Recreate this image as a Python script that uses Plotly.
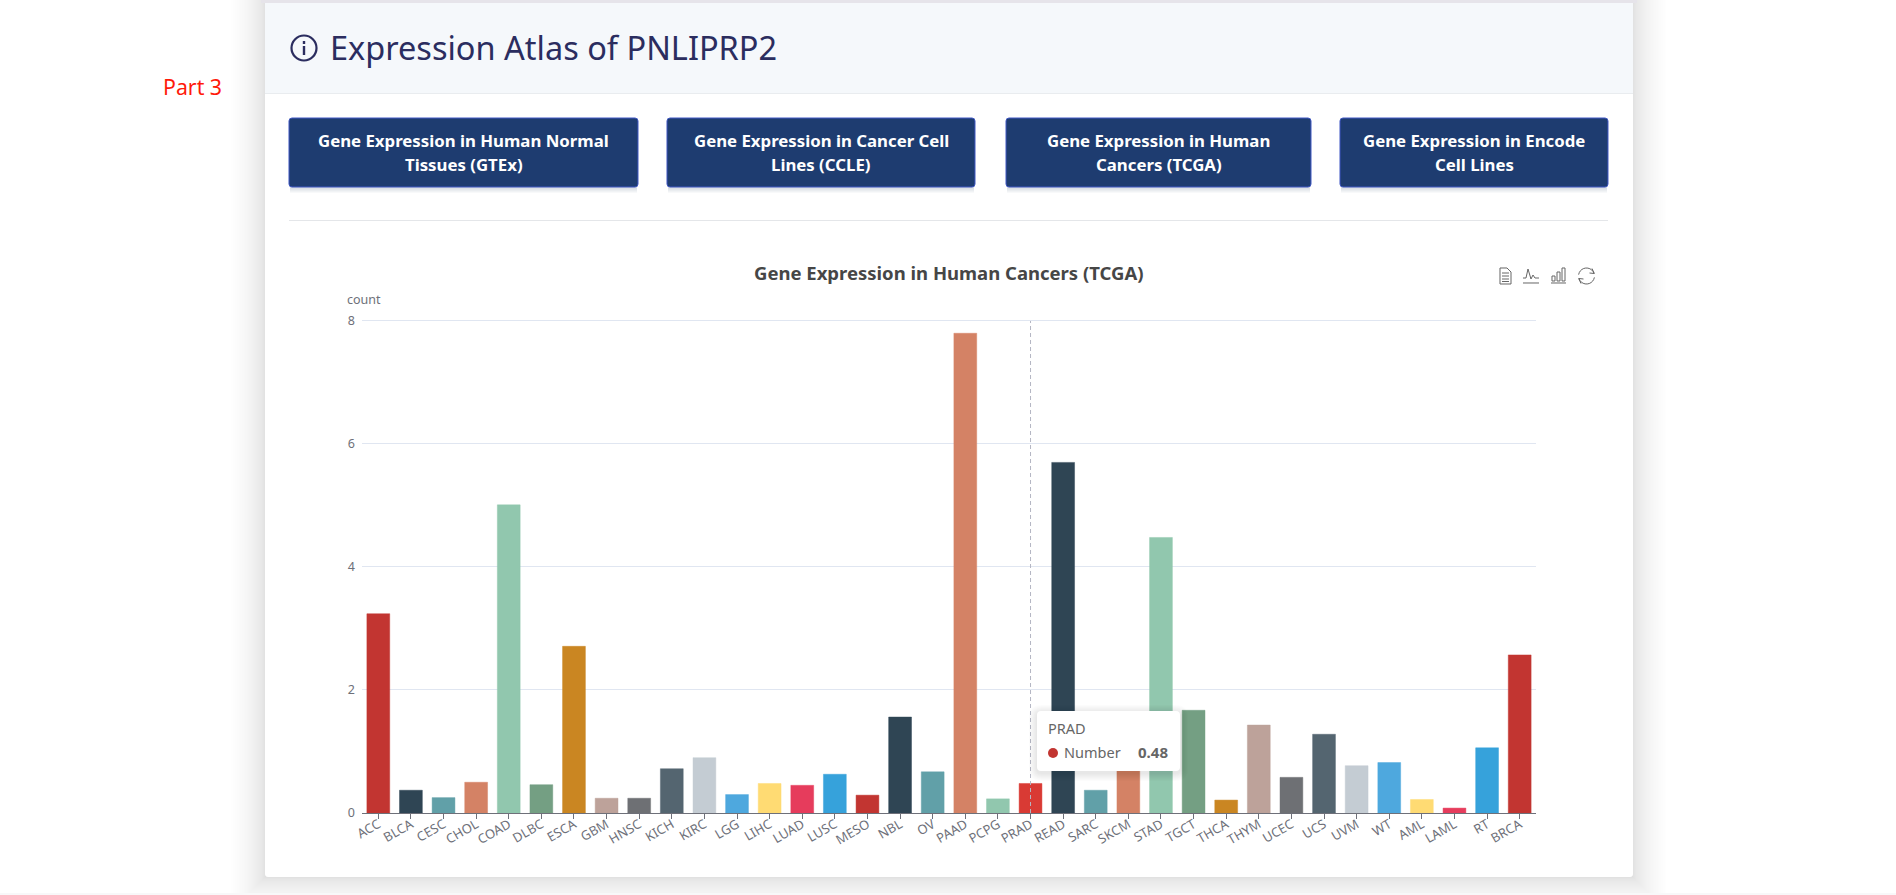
import math
import plotly.graph_objects as go

W, H = 1896, 895

categories = ["ACC","BLCA","CESC","CHOL","COAD","DLBC","ESCA","GBM","HNSC","KICH","KIRC","LGG","LIHC","LUAD","LUSC","MESO","NBL","OV",
              "PAAD","PCPG","PRAD","READ","SARC","SKCM","STAD","TGCT","THCA","THYM","UCEC","UCS","UVM","WT","AML","LAML","RT","BRCA"]
values = [3.24,0.37,0.25,0.50,5.01,0.46,2.71,0.24,0.24,0.72,0.90,0.30,0.48,0.45,0.63,0.29,1.56,0.67,
          7.80,0.23,0.48,5.70,0.37,1.00,4.48,1.67,0.21,1.43,0.58,1.28,0.77,0.82,0.22,0.08,1.06,2.57]
bar_colors = ["#c23531","#2f4554","#61a0a8","#d48265","#91c7ae","#749f83","#ca8622","#bda29a","#6e7074","#546570",
              "#c4ccd3","#4ea8de","#ffdb73","#e63c5c","#36a2db",
              "#c23531","#2f4554","#61a0a8","#d48265","#91c7ae",
              "#d93a34","#2f4554","#61a0a8","#d48265","#91c7ae","#749f83","#ca8622","#bda29a","#6e7074",
              "#546570","#c4ccd3","#4ea8de","#ffdb73","#e63c5c","#36a2db","#c23531"]
y_ticks = [0, 2, 4, 6, 8]
buttons = [
    ("Gene Expression in Human Normal", "Tissues (GTEx)", 289, 638),
    ("Gene Expression in Cancer Cell", "Lines (CCLE)", 667, 975),
    ("Gene Expression in Human", "Cancers (TCGA)", 1006, 1311),
    ("Gene Expression in Encode", "Cell Lines", 1340, 1608),
]
hover_category = "PRAD"
hover_value = 0.48

FONT = "Noto Sans, Open Sans, sans-serif"

def px(x): return x / W
def py(y): return 1 - y / H

def rgba(hexc, a):
    return f"rgba({int(hexc[1:3],16)},{int(hexc[3:5],16)},{int(hexc[5:7],16)},{a})"

def round_path(x0, y0, x1, y1, r):
    P = lambda x, y: f"{px(x):.6f},{py(y):.6f}"
    return (f"M{P(x0+r,y0)} L{P(x1-r,y0)} Q{P(x1,y0)} {P(x1,y0+r)} L{P(x1,y1-r)} Q{P(x1,y1)} {P(x1-r,y1)} "
            f"L{P(x0+r,y1)} Q{P(x0,y1)} {P(x0,y1-r)} L{P(x0,y0+r)} Q{P(x0,y0)} {P(x0+r,y0)} Z")

def poly(points, close=False):
    s = "M" + " L".join(f"{px(x):.6f},{py(y):.6f}" for x, y in points)
    return s + (" Z" if close else "")

shapes, annots = [], []

def rect(x0, y0, x1, y1, fill, layer="below", r=0, line=None, lw=0):
    shapes.append(dict(type="path", xref="paper", yref="paper", path=round_path(x0, y0, x1, y1, r) if r else
                       poly([(x0,y0),(x1,y0),(x1,y1),(x0,y1)], True),
                       fillcolor=fill, line=dict(color=line or "rgba(0,0,0,0)", width=lw), layer=layer))

def stroke(points, color="#666666", lw=1, layer="above", close=False):
    shapes.append(dict(type="path", xref="paper", yref="paper", path=poly(points, close),
                       line=dict(color=color, width=lw), layer=layer))

def text(x, y, s, size, color, anchor="left", bold=False, va="middle"):
    annots.append(dict(x=px(x), y=py(y), xref="paper", yref="paper", text=f"<b>{s}</b>" if bold else s,
                       showarrow=False, xanchor=anchor, yanchor=va, align="center",
                       font=dict(family=FONT, size=size, color=color)))

# card shadow: dense, soft stack
CX0, CY0, CX1, CY1 = 265, 3, 1633, 877
rect(0, 0, W, H, "#ffffff")
N = 34
for i in range(1, N + 1):
    d = 34 * (i / N) ** 1.9
    rect(CX0 - d, 0, CX1 + d, min(CY1 + d, 893), "rgba(40,40,70,0.0022)")
rect(CX0 - 4, 0, CX1 + 4, 3, "#e6e4ea")
rect(0, 893, W, H, "#f8f8f9")
# card
rect(CX0, CY0, CX1, CY1, "#ffffff", r=3)
rect(CX0, CY0, CX1, 93, "#f5f8fb")
rect(CX0, 93, CX1, 94, "#e9ecef")
rect(289, 220, 1608, 221, "#e4e6e9")

# header
shapes.append(dict(type="circle", xref="paper", yref="paper", x0=px(291.5), x1=px(316.5), y0=py(60.5), y1=py(35.5),
                   line=dict(color="#2b2d5f", width=2.2), fillcolor="rgba(0,0,0,0)", layer="below"))
rect(302.8, 46, 305.2, 55, "#2b2d5f")
rect(302.8, 41, 305.2, 44, "#2b2d5f")
text(328, 48, "Expression Atlas of PNLIPRP2", 32.5, "#2b2d5f")
text(161, 86, "Part 3", 21.3, "#ff1a0a")

# buttons
for line1, line2, x0, x1 in buttons:
    for k in range(1, 7):
        rect(x0 + 1, 120, x1 - 1, 187 + k, "rgba(30,50,90,0.03)")
    rect(x0, 118, x1, 187, "#1e3c70", r=3, line="#4058c4", lw=1)
    text((x0 + x1) / 2, 140.5, line1, 16.8, "#ffffff", anchor="center", bold=True)
    text((x0 + x1) / 2, 164.5, line2, 16.8, "#ffffff", anchor="center", bold=True)

# chart title + axis name
text(949, 273, "Gene Expression in Human Cancers (TCGA)", 18.5, "#464646", anchor="center", bold=True)
text(345, 299, "count", 12.5, "#6e7079")

# toolbox icons
C = "#666666"
stroke([(1500, 268), (1507, 268), (1511, 272), (1511, 284), (1500, 284)], C, 1, close=True)
for yy in (273, 276, 279, 281.5):
    stroke([(1502, yy), (1509, yy)], C, 1)
stroke([(1523, 283), (1539, 283)], C, 1)
stroke([(1523, 278), (1526, 278), (1528, 269), (1531, 279), (1533, 275), (1535, 278), (1539, 278)], C, 1)
stroke([(1551, 283), (1566, 283)], C, 1)
for x0, x1, y0 in ((1552, 1555, 276), (1557, 1560, 272), (1562, 1565, 268)):
    stroke([(x0, y0), (x1, y0), (x1, 281), (x0, 281)], C, 1, close=True)
def arc(a0, a1, cx=1586.5, cy=276, r=8):
    return [(cx + r * math.cos(math.radians(a)), cy + r * math.sin(math.radians(a))) for a in range(a0, a1 + 1, 15)]
stroke(arc(190, 340), C, 1)
stroke(arc(10, 160), C, 1)
stroke([(1592, 268.5), (1594.3, 273.5), (1589.5, 273)], C, 1)
stroke([(1581, 283.5), (1578.7, 278.5), (1583.5, 279)], C, 1)

# crosshair (tied to the category axis)
shapes.append(dict(type="line", xref="x", yref="y", x0=hover_category, x1=hover_category, y0=0, y1=8,
                   line=dict(color="#b4b6c4", width=1, dash="4px,3px"), layer="above"))

# tooltip
for k in range(1, 9):
    rect(1037 - k, 711 - k + 2, 1180 + k, 771 + k + 2, "rgba(0,0,0,0.012)", layer="above", r=4 + k)
rect(1037, 711, 1180, 771, "#ffffff", layer="above", r=4)
shapes.append(dict(type="circle", xref="paper", yref="paper", x0=px(1048), x1=px(1058), y0=py(758), y1=py(748),
                   fillcolor="#c23531", line=dict(width=0), layer="above"))
text(1046, 728, hover_category, 14.5, "#666666")
text(1062, 752, "Number", 14.5, "#666666")
text(1170, 752, f"{hover_value:.2f}", 15, "#666666", anchor="right", bold=True)

fig = go.Figure(go.Bar(
    x=categories, y=values,
    marker=dict(color=bar_colors, line=dict(color=[rgba(c, 0.45) for c in bar_colors], width=1)),
    hoverinfo="skip", showlegend=False,
))
fig.update_layout(
    width=W, height=H, autosize=False, margin=dict(l=0, r=0, t=0, b=0),
    paper_bgcolor="#ffffff", plot_bgcolor="rgba(0,0,0,0)", bargap=0.3,
    font=dict(family=FONT, size=12, color="#6e7079"),
    shapes=shapes, annotations=annots,
    xaxis=dict(domain=[px(362), px(1536)], anchor="y", type="category", categoryorder="array", categoryarray=categories,
               tickangle=-30, tickfont=dict(size=13, color="#6e7079"), ticks="outside", ticklen=5, tickwidth=1,
               tickcolor="#6e7079", showline=True, linecolor="#6e7079", linewidth=1, showgrid=False, zeroline=False,
               ticklabelstandoff=-7, automargin=False),
    yaxis=dict(domain=[py(813), py(318.5)], anchor="x", range=[0, 8.04], tickvals=y_ticks, ticks="", showline=False,
               gridcolor="#e0e6f1", gridwidth=1, zeroline=False, tickfont=dict(size=12.5, color="#6e7079"),
               ticklabelstandoff=6, automargin=False),
)
fig.write_html("out.html", config=dict(displayModeBar=False),
               post_script="document.body.style.margin='0';document.body.style.overflow='hidden';")
